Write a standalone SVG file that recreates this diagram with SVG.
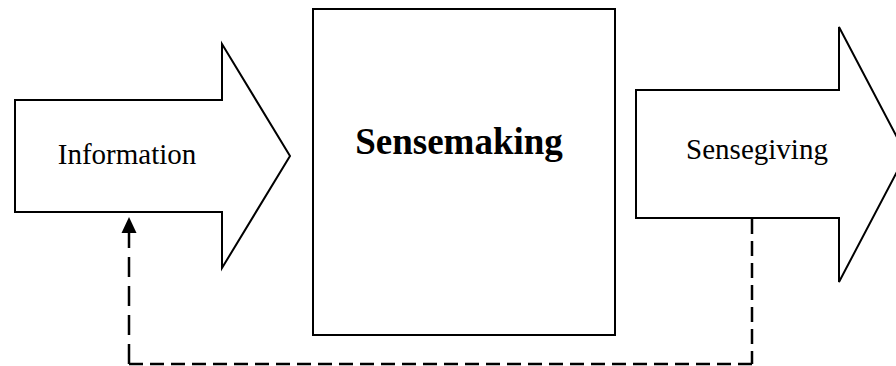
<svg xmlns="http://www.w3.org/2000/svg" width="896" height="366" viewBox="0 0 896 366">
<style>
.shape{fill:#fff;stroke:#000;stroke-width:2;stroke-linejoin:miter}
.lbl{font-family:"Liberation Serif","Times New Roman",serif;fill:#000;text-anchor:middle}
.dash{fill:none;stroke:#000;stroke-width:2.5}
</style>
<defs>
<marker id="ah" viewBox="0 0 10 10" refX="10" refY="5" markerWidth="6" markerHeight="6" markerUnits="strokeWidth" orient="auto">
<path d="M0,0 L10,5 L0,10 Z" fill="#000"/>
</marker>
</defs>
<rect width="896" height="366" fill="#fff"/>
<g id="information">
<path class="shape" d="M15,100 H222 V44 L290,156 L222,268 V212 H15 Z"/>
<text class="lbl" x="127" y="164" font-size="29">Information</text>
</g>
<g id="sensemaking">
<rect class="shape" x="313" y="9" width="302" height="326"/>
<text class="lbl" x="459" y="154" font-size="37" font-weight="bold">Sensemaking</text>
</g>
<g id="sensegiving">
<path class="shape" d="M636,90 H839 V27 L906,154.5 L839,282 V218 H636 Z"/>
<text class="lbl" x="757" y="159" font-size="29">Sensegiving</text>
</g>
<g id="connectors">
<line class="dash" x1="752" y1="219" x2="752" y2="364" stroke-dasharray="15 7"/>
<line class="dash" x1="752" y1="364" x2="129" y2="364" stroke-dasharray="14 7"/>
<line class="dash" x1="129" y1="364" x2="129" y2="232" stroke-dasharray="20 9"/>
<path d="M121.5,233 L129,217 L136.5,233 Z" fill="#000"/>
</g>
</svg>
